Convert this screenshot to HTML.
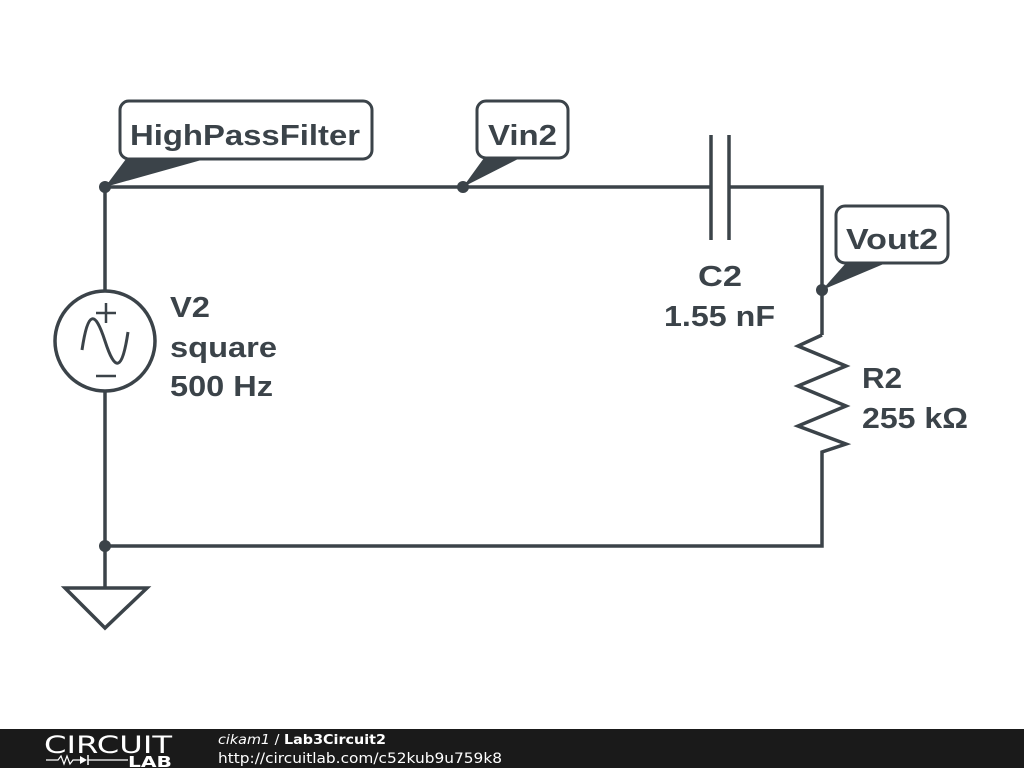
<!DOCTYPE html>
<html><head><style>
html,body{margin:0;padding:0;background:#fff;}
svg{display:block;}
text{font-family:"Liberation Sans",sans-serif;font-weight:bold;fill:#3b4349;}
.f{font-family:"DejaVu Sans",sans-serif;}
</style></head><body>
<svg width="1024" height="768" viewBox="0 0 1024 768" xmlns="http://www.w3.org/2000/svg">
<rect width="1024" height="768" fill="#fff"/>
<g stroke="#3b4349" stroke-width="3.5" fill="none" stroke-linejoin="miter">
<polyline points="105,291 105,187 711,187"/>
<polyline points="729,187 822,187 822,335"/>
<line x1="711" y1="135" x2="711" y2="240"/>
<line x1="729" y1="135" x2="729" y2="240"/>
<polyline points="822,335 798,346 846,366 798,386 846,406 798,426 846,444 822,452 822,546 105,546 105,391"/>
<line x1="105" y1="546" x2="105" y2="588"/>
<polygon points="65,588 147,588 105,628"/>
<circle cx="105" cy="341" r="50"/>
<path d="M82,350 C88,310 95,310 105,341 C115,372 122,372 128,332" stroke-width="3"/>
<line x1="96" y1="313" x2="116" y2="313" stroke-width="2.5"/>
<line x1="106" y1="303" x2="106" y2="323" stroke-width="2.5"/>
<line x1="96" y1="376" x2="116" y2="376" stroke-width="2.5"/>
<rect x="120" y="101" width="252" height="58" rx="9" fill="#fff" stroke-width="3"/>
<rect x="477" y="101" width="91" height="57" rx="9" fill="#fff" stroke-width="3"/>
<rect x="836" y="206" width="112" height="57" rx="9" fill="#fff" stroke-width="3"/>
</g>
<g fill="#3b4349">
<polygon points="105,187 126,159 205,159"/>
<polygon points="463,187 484,158 520,158"/>
<polygon points="822,290 846,263 886,263"/>
<circle cx="105" cy="187" r="6"/>
<circle cx="463" cy="187" r="6"/>
<circle cx="822" cy="290" r="6"/>
<circle cx="105" cy="546" r="6"/>
</g>
<text x="130" y="145" font-size="29" textLength="230" lengthAdjust="spacingAndGlyphs">HighPassFilter</text>
<text x="488" y="145" font-size="29" textLength="69" lengthAdjust="spacingAndGlyphs">Vin2</text>
<text x="846" y="249" font-size="29" textLength="92" lengthAdjust="spacingAndGlyphs">Vout2</text>
<text x="170" y="317" font-size="29" textLength="40" lengthAdjust="spacingAndGlyphs">V2</text>
<text x="170" y="357" font-size="29" textLength="107" lengthAdjust="spacingAndGlyphs">square</text>
<text x="170" y="396" font-size="29" textLength="103" lengthAdjust="spacingAndGlyphs">500 Hz</text>
<text x="698" y="286" font-size="29" textLength="44" lengthAdjust="spacingAndGlyphs">C2</text>
<text x="664" y="326" font-size="29" textLength="111" lengthAdjust="spacingAndGlyphs">1.55 nF</text>
<text x="862" y="388" font-size="29" textLength="40" lengthAdjust="spacingAndGlyphs">R2</text>
<text x="862" y="428" font-size="29" textLength="106" lengthAdjust="spacingAndGlyphs">255 kΩ</text>
<rect x="0" y="729" width="1024" height="39" fill="#1a1a1a"/>
<text class="f" x="44" y="753" font-size="24" textLength="128" lengthAdjust="spacingAndGlyphs" style="font-weight:normal;fill:#fff">CIRCUIT</text>
<polyline points="46,760 58,760 61,756 64,764 67,756 70,764 73,760 80,760" stroke="#fff" stroke-width="1.2" fill="none"/>
<polygon points="80,756 80,764 87,760" fill="#fff"/>
<line x1="88" y1="755" x2="88" y2="765" stroke="#fff" stroke-width="1.5"/>
<line x1="88" y1="760" x2="128" y2="760" stroke="#fff" stroke-width="1.2"/>
<text class="f" x="128" y="767" font-size="15" textLength="44" lengthAdjust="spacingAndGlyphs" style="fill:#fff">LAB</text>
<text class="f" x="218" y="744" font-size="13" textLength="168" lengthAdjust="spacingAndGlyphs" style="fill:#fff;font-weight:normal;font-style:italic">cikam1 <tspan style="font-style:normal">/</tspan> <tspan style="font-style:normal;font-weight:bold">Lab3Circuit2</tspan></text>
<text class="f" x="218" y="763" font-size="14" textLength="284" lengthAdjust="spacingAndGlyphs" style="fill:#fff;font-weight:normal">http://circuitlab.com/c52kub9u759k8</text>
</svg>
</body></html>
